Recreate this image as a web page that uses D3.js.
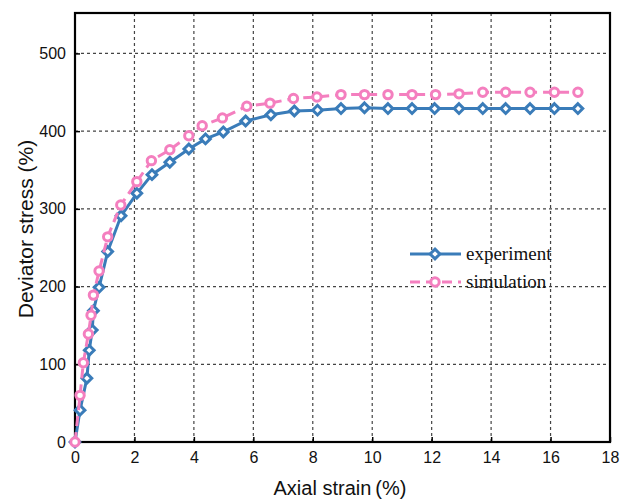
<!DOCTYPE html>
<html>
<head>
<meta charset="utf-8">
<script src="https://cdn.jsdelivr.net/npm/d3@7"></script>
<style>
  body { margin: 0; background: #fff; }
  .tick text { font-family: "Liberation Sans", Arial, sans-serif; font-size: 16px; fill: #111; }
</style>
</head>
<body>
<div class="chart"></div>
<script>
// data
var expStrain = [0, 0.17, 0.4, 0.48, 0.58, 0.62, 0.81, 1.1, 1.55, 2.08, 2.59, 3.19, 3.83, 4.39, 4.99, 5.74, 6.59, 7.38, 8.16, 8.95, 9.74, 10.53, 11.34, 12.1, 12.92, 13.72, 14.49, 15.31, 16.13, 16.92];
var expStress = [0, 41, 82, 118, 144, 169, 199, 245, 291, 320, 344, 360, 377, 390, 399, 413, 421, 426, 427, 429, 430, 429, 429, 429, 429, 429, 429, 429, 429, 429];
var simStrain = [0, 0.17, 0.28, 0.45, 0.54, 0.62, 0.81, 1.1, 1.54, 2.08, 2.57, 3.19, 3.83, 4.28, 4.96, 5.78, 6.56, 7.35, 8.14, 8.95, 9.74, 10.53, 11.34, 12.13, 12.92, 13.72, 14.49, 15.31, 16.13, 16.92];
var simStress = [0, 60, 102, 139, 163, 189, 220, 264, 305, 335, 362, 376, 394, 407, 417, 432, 436, 442, 444, 447, 447, 447, 447, 447, 448, 450, 450, 450, 450, 450];
var xTicks = [0, 2, 4, 6, 8, 10, 12, 14, 16, 18];
var yTicks = [0, 100, 200, 300, 400, 500];
var seriesNames = ["experiment", "simulation"];

var svgWidth = 622;
var svgHeight = 500;
var margin = { top: 13, right: 12, bottom: 58, left: 75 };
var width = svgWidth - margin.left - margin.right;
var height = svgHeight - margin.top - margin.bottom;

var blue = "#3a7cb9";
var pink = "#f47fbf";

var svg = d3.select(".chart")
  .append("svg")
  .attr("width", svgWidth)
  .attr("height", svgHeight);

var chartGroup = svg.append("g")
  .attr("transform", `translate(${margin.left}, ${margin.top})`);

var xScale = d3.scaleLinear().domain([0, 18]).range([0, width]);
var yScale = d3.scaleLinear().domain([0, 552]).range([height, 0]);

// grid
chartGroup.append("g")
  .selectAll("line")
  .data(xTicks.slice(1, -1))
  .enter().append("line")
  .attr("x1", d => xScale(d)).attr("x2", d => xScale(d))
  .attr("y1", 0).attr("y2", height)
  .attr("stroke", "#444").attr("stroke-width", 1.2).attr("stroke-dasharray", "3,3");

chartGroup.append("g")
  .selectAll("line")
  .data(yTicks.slice(1))
  .enter().append("line")
  .attr("x1", 0).attr("x2", width)
  .attr("y1", d => yScale(d)).attr("y2", d => yScale(d))
  .attr("stroke", "#444").attr("stroke-width", 1.2).attr("stroke-dasharray", "3,3");

// axes
var bottomAxis = d3.axisBottom(xScale).tickValues(xTicks).tickSizeInner(-5).tickSizeOuter(0).tickPadding(10);
var leftAxis = d3.axisLeft(yScale).tickValues(yTicks).tickSizeInner(-5).tickSizeOuter(0).tickPadding(9);

var gx = chartGroup.append("g")
  .attr("transform", `translate(0, ${height})`)
  .call(bottomAxis);
var gy = chartGroup.append("g").call(leftAxis);
[gx, gy].forEach(function(g) {
  g.selectAll(".tick line").attr("stroke", "#000").attr("stroke-width", 1.5);
  g.select(".domain").remove();
});

// frame
chartGroup.append("rect")
  .attr("width", width).attr("height", height)
  .attr("fill", "none").attr("stroke", "#000").attr("stroke-width", 2.2);

var expData = expStrain.map((d, i) => [d, expStress[i]]);
var simData = simStrain.map((d, i) => [d, simStress[i]]);

var line = d3.line().x(d => xScale(d[0])).y(d => yScale(d[1]));

var diamond = d3.symbol().type(d3.symbolDiamond2).size(60);

chartGroup.append("path")
  .datum(expData)
  .attr("d", line)
  .attr("fill", "none").attr("stroke", blue).attr("stroke-width", 3);

chartGroup.selectAll(".expPt")
  .data(expData)
  .enter().append("path")
  .attr("class", "expPt")
  .attr("d", diamond)
  .attr("transform", d => `translate(${xScale(d[0])}, ${yScale(d[1])})`)
  .attr("fill", "#fff").attr("stroke", blue).attr("stroke-width", 3);

chartGroup.append("path")
  .datum(simData)
  .attr("d", line)
  .attr("fill", "none").attr("stroke", pink).attr("stroke-width", 3)
  .attr("stroke-dasharray", "10,6");

chartGroup.selectAll(".simPt")
  .data(simData)
  .enter().append("circle")
  .attr("class", "simPt")
  .attr("cx", d => xScale(d[0]))
  .attr("cy", d => yScale(d[1]))
  .attr("r", 4.2)
  .attr("fill", "#fff").attr("stroke", pink).attr("stroke-width", 3);

// legend
var legend = svg.append("g").attr("transform", "translate(410, 254)");
legend.append("line").attr("x1", 0).attr("x2", 51).attr("y1", 0).attr("y2", 0)
  .attr("stroke", blue).attr("stroke-width", 3);
legend.append("path").attr("d", diamond)
  .attr("transform", "translate(25, 0)")
  .attr("fill", "#fff").attr("stroke", blue).attr("stroke-width", 3);
legend.append("line").attr("x1", 0).attr("x2", 51).attr("y1", 28).attr("y2", 28)
  .attr("stroke", pink).attr("stroke-width", 3).attr("stroke-dasharray", "10,6");
legend.append("circle").attr("cx", 25).attr("cy", 28).attr("r", 4.2)
  .attr("fill", "#fff").attr("stroke", pink).attr("stroke-width", 3);
legend.selectAll("text")
  .data(seriesNames)
  .enter().append("text")
  .attr("x", 56).attr("y", (d, i) => i * 28 + 6)
  .attr("font-family", "'Liberation Serif', 'Times New Roman', serif")
  .attr("font-size", 19).attr("fill", "#111")
  .text(d => d);

// axis titles
svg.append("text")
  .attr("x", 340).attr("y", 495)
  .attr("text-anchor", "middle")
  .attr("font-family", "'Liberation Sans', Arial, sans-serif")
  .attr("font-size", 20).attr("fill", "#111")
  .text("Axial strain\u2009(%)");

svg.append("text")
  .attr("transform", "translate(33, 229) rotate(-90)")
  .attr("text-anchor", "middle")
  .attr("font-family", "'Liberation Sans', Arial, sans-serif")
  .attr("font-size", 21).attr("fill", "#111")
  .text("Deviator stress (%)");
</script>
</body>
</html>
